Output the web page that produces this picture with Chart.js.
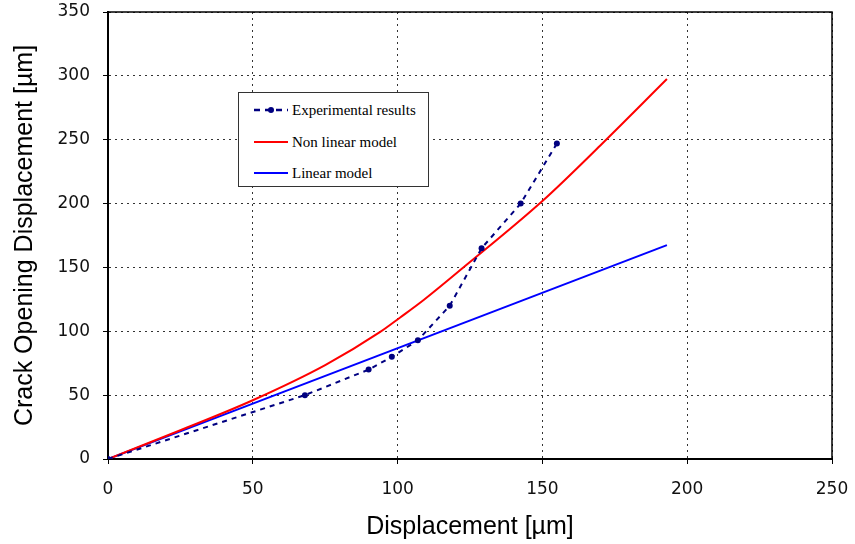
<!DOCTYPE html>
<html>
<head>
<meta charset="utf-8">
<script src="https://cdn.jsdelivr.net/npm/chart.js@4"></script>
<style>
  html, body { margin: 0; padding: 0; background: #fff; }
  #wrap { position: relative; width: 855px; height: 544px; }
  #legend { position: absolute; left: 238px; top: 92px; width: 189px; height: 93px;
            border: 1.5px solid #333; background: #fff; font-family: "Liberation Serif", serif; font-size: 15px; color: #000; }
  .row { position: absolute; left: 14px; height: 18px; display: flex; align-items: center; }
  .row svg { margin-right: 3px; }
</style>
</head>
<body>
<div id="wrap">
  <canvas id="c" width="855" height="544"></canvas>
  <div id="legend">
    <div class="row" style="top:8px"><svg width="36" height="10"><line x1="1" y1="5" x2="35" y2="5" stroke="#000080" stroke-width="2.5" stroke-dasharray="6,5"/><circle cx="18" cy="5" r="3" fill="#000080"/></svg>Experimental results</div>
    <div class="row" style="top:40px"><svg width="36" height="10"><line x1="1" y1="5" x2="35" y2="5" stroke="#ff0000" stroke-width="2"/></svg>Non linear model</div>
    <div class="row" style="top:71px"><svg width="36" height="10"><line x1="1" y1="5" x2="35" y2="5" stroke="#0000ff" stroke-width="2"/></svg>Linear model</div>
  </div>
</div>
<script>
// values
const expX = [0, 68, 90, 98, 107, 118, 129, 142.5, 155];
const expY = [0, 50, 70, 80, 93, 120, 165, 200, 247];

const nonLinX = [0, 25, 50, 75, 94, 101, 109, 123, 150, 170, 193];
const nonLinY = [0, 22.5, 46, 73.5, 99.5, 111, 124.5, 150.5, 202, 245.5, 297.5];

const linX = [0, 193];
const linY = [0, 167.5];

const xLabel = 'Displacement [\u00b5m]';
const yLabel = 'Crack Opening Displacement [\u00b5m]';

const pts = (xs, ys) => xs.map((x, i) => ({ x, y: ys[i] }));

const frame = {
    id: 'frame',
    beforeDatasetsDraw(chart) {
        const { ctx, chartArea: a } = chart;
        ctx.save();
        ctx.strokeStyle = '#000';
        ctx.lineWidth = 1.5;
        ctx.strokeRect(a.left, a.top, a.right - a.left, a.bottom - a.top);
        ctx.restore();
    }
};

const gridOpts = { color: '#333', lineWidth: 1, tickLength: 5, tickBorderDash: [], tickColor: '#000', tickWidth: 1 };
const borderOpts = { display: true, color: '#000', width: 2, dash: [2, 4] };
const tickFont = { family: 'DejaVu Sans', size: 17 };
const titleFont = { family: 'Liberation Sans', size: 25 };

new Chart(document.getElementById('c'), {
    type: 'scatter',
    data: {
        datasets: [
            { label: 'Linear model', data: pts(linX, linY), showLine: true, borderColor: '#0000ff', borderWidth: 2, pointRadius: 0, order: 3 },
            { label: 'Non linear model', data: pts(nonLinX, nonLinY), showLine: true, borderColor: '#ff0000', borderWidth: 2, pointRadius: 0,
              cubicInterpolationMode: 'monotone', order: 2 },
            { label: 'Experimental results', data: pts(expX, expY), showLine: true, borderColor: '#000080', borderWidth: 2, borderDash: [5, 5],
              pointRadius: 3, pointBackgroundColor: '#000080', pointBorderWidth: 0, order: 1 }
        ]
    },
    options: {
        responsive: false,
        animation: false,
        layout: { padding: { top: 12, right: 23, left: 0, bottom: 0 } },
        plugins: { legend: { display: false }, tooltip: { enabled: false } },
        scales: {
            x: {
                type: 'linear', min: 0, max: 250,
                ticks: { stepSize: 50, font: tickFont, color: '#111', padding: 15, maxRotation: 0 },
                grid: gridOpts,
                border: borderOpts,
                title: { display: true, text: xLabel, font: titleFont, color: '#000', padding: { top: 0, bottom: 2 } },
                afterFit: s => { s.height = 85; s.paddingLeft = 0; s.paddingRight = 0; }
            },
            y: {
                type: 'linear', min: 0, max: 350,
                ticks: { stepSize: 50, font: tickFont, color: '#111', padding: 13 },
                grid: gridOpts,
                border: borderOpts,
                title: { display: true, text: yLabel, font: titleFont, color: '#000', padding: { top: 10, bottom: 0 } },
                afterFit: s => { s.width = 108; s.paddingTop = 0; s.paddingBottom = 0; }
            }
        }
    },
    plugins: [frame]
});
</script>
</body>
</html>
